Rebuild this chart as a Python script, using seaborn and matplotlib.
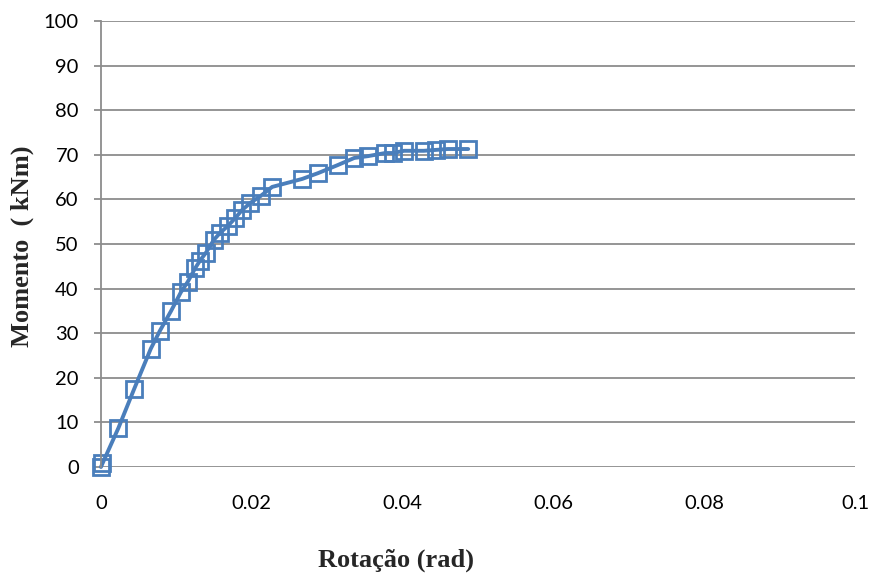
import matplotlib
matplotlib.use("Agg")
import matplotlib.pyplot as plt
import seaborn as sns
import pandas as pd

# Moment-rotation curve
rotacao = [0.0, 0.0002, 0.0023, 0.0044, 0.0066, 0.0078, 0.0093, 0.0106, 0.0115,
           0.0125, 0.0131, 0.0139, 0.0150, 0.0158, 0.0168, 0.0178, 0.0187,
           0.0198, 0.0212, 0.0227, 0.0267, 0.0288, 0.0314, 0.0336, 0.0354,
           0.0377, 0.0387, 0.0402, 0.0428, 0.0444, 0.0460, 0.0487]
momento = [0.0, 0.8, 8.7, 17.5, 26.5, 30.5, 35.0, 39.2, 41.5,
           44.6, 46.2, 48.0, 51.0, 52.5, 54.0, 55.8, 57.6,
           59.2, 60.8, 62.8, 64.6, 65.9, 67.7, 69.3, 69.7,
           70.4, 70.4, 70.9, 70.9, 71.1, 71.3, 71.3]

x_ticks = [0, 0.02, 0.04, 0.06, 0.08, 0.1]
x_tick_labels = ["0", "0.02", "0.04", "0.06", "0.08", "0.1"]
y_ticks = [0, 10, 20, 30, 40, 50, 60, 70, 80, 90, 100]

df = pd.DataFrame({"Rotacao": rotacao, "Momento": momento})

sns.set_theme(style="white")
plt.rcParams["font.family"] = ["Lato", "DejaVu Sans"]

fig = plt.figure(figsize=(8.72, 5.74), dpi=100)
ax = fig.add_axes([0.1158, 0.1864, 0.8647, 0.777])

blue = "#4a7ebb"
sns.lineplot(data=df, x="Rotacao", y="Momento", ax=ax, color=blue,
             linewidth=2.8, marker="s", markersize=11.5,
             markerfacecolor="none", markeredgecolor=blue,
             markeredgewidth=2.0, sort=False, estimator=None, clip_on=False)

ax.set_xlim(0, 0.1)
ax.set_ylim(0, 100)
ax.set_xticks(x_ticks)
ax.set_xticklabels(x_tick_labels)
ax.set_yticks(y_ticks)
ax.grid(axis="y", color="#8c8c8c", linewidth=1.3)
ax.set_axisbelow(True)

for side in ["top", "right", "bottom"]:
    ax.spines[side].set_visible(False)
ax.spines["left"].set_color("#8c8c8c")
ax.spines["left"].set_linewidth(1.3)

ax.tick_params(axis="y", which="major", left=True, length=5, width=1.3,
               color="#8c8c8c", labelsize=14.5, pad=11)
ax.tick_params(axis="x", which="major", bottom=False, labelsize=14.5, pad=14)
for lbl in ax.get_xticklabels() + ax.get_yticklabels():
    lbl.set_color("black")

label_font = dict(family=["Liberation Serif", "DejaVu Serif"],
                  fontweight="bold", fontsize=19)
ax.set_xlabel("")
ax.set_ylabel("")
fig.text(396 / 872, 1 - 560 / 574, "Rotação (rad)", ha="center", va="center",
         **label_font)
fig.text(22 / 872, 1 - 246 / 574, "Momento  ( kNm)", ha="center", va="center",
         rotation=90, **label_font)

fig.savefig("out.png", dpi=100)
